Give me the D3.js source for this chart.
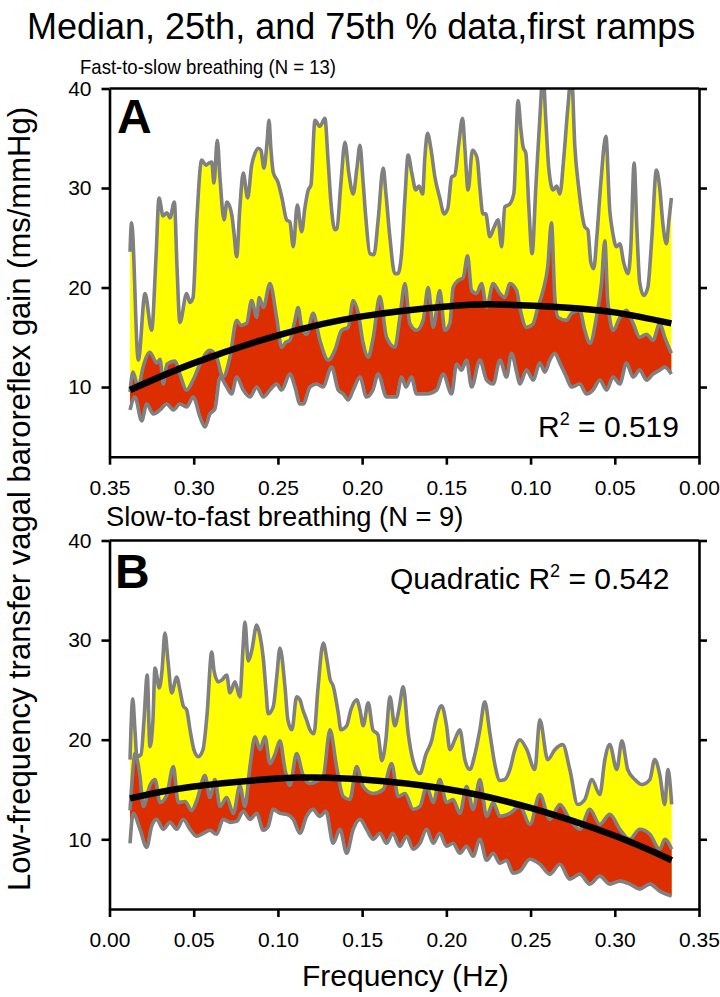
<!DOCTYPE html>
<html><head><meta charset="utf-8">
<script src="https://cdn.jsdelivr.net/npm/d3@7/dist/d3.min.js"></script>
<style>body{margin:0;background:#fff}svg{display:block}</style>
</head><body><svg id="c" width="720" height="997"></svg>
<script>
// ---------- DATA ----------
// [frequency (Hz), gain (ms/mmHg)]
const tickFreqs = [0, 0.05, 0.10, 0.15, 0.20, 0.25, 0.30, 0.35];
const tickGains = [10, 20, 30, 40];

// Panel A: fast-to-slow breathing
const p75A = [[0.3378,23.6],[0.3369,26.5],[0.3329,12.7],[0.3289,19.4],[0.3250,15.7],[0.3224,23],[0.3206,29.0],[0.3182,27.2],[0.3159,27.5],[0.3141,27.0],[0.3115,28.6],[0.3099,22],[0.3082,16.5],[0.3042,19.4],[0.3022,18.5],[0.3004,19.0],[0.2981,27],[0.2953,32.8],[0.2927,32.3],[0.2910,32.5],[0.2893,32.6],[0.2880,30.5],[0.2860,34.8],[0.2844,31],[0.2820,26.8],[0.2803,28.6],[0.2775,27.4],[0.2761,25.5],[0.2745,23.1],[0.2726,28],[0.2706,31.5],[0.2680,29.0],[0.2656,32.3],[0.2636,33.5],[0.2617,34.0],[0.2601,33.8],[0.2583,32.0],[0.2565,34.5],[0.2553,36.8],[0.2542,34],[0.2528,31.6],[0.2500,30.6],[0.2476,29.0],[0.2448,26.8],[0.2429,26.6],[0.2409,24.1],[0.2385,28.3],[0.2359,25.6],[0.2340,28.0],[0.2320,29.8],[0.2304,30.3],[0.2280,36.8],[0.2251,36.2],[0.2221,37.0],[0.2203,33],[0.2185,28.5],[0.2162,25.8],[0.2150,25.9],[0.2126,30.5],[0.2102,34.6],[0.2079,31.5],[0.2053,29.4],[0.2031,32],[0.2013,34.3],[0.1996,31],[0.1978,27],[0.1954,23.4],[0.1930,23.3],[0.1905,26.8],[0.1875,32.0],[0.1859,29.5],[0.1835,25],[0.1806,21.4],[0.1788,21.4],[0.1766,23.4],[0.1746,29],[0.1727,33.3],[0.1705,31.5],[0.1681,29.8],[0.1663,30.2],[0.1641,29.4],[0.1628,33],[0.1612,35.5],[0.1592,34],[0.1568,31.1],[0.1539,29],[0.1513,27.4],[0.1491,28],[0.1469,31.1],[0.1450,31.3],[0.1426,34.5],[0.1404,37.0],[0.1390,34],[0.1371,29.8],[0.1345,33.8],[0.1317,33.0],[0.1301,30],[0.1283,27.4],[0.1266,27.4],[0.1242,25.1],[0.1218,26],[0.1193,26.8],[0.1172,24.1],[0.1153,28.1],[0.1123,28.4],[0.1099,29.5],[0.1074,38.8],[0.1058,36],[0.1044,34.1],[0.1028,33.5],[0.1010,28],[0.0991,23.4],[0.0969,30],[0.0945,37],[0.0926,41.5],[0.0910,37],[0.0892,32],[0.0866,29.8],[0.0846,30.2],[0.0826,29.4],[0.0803,33],[0.0779,38],[0.0757,41.5],[0.0737,34.1],[0.0714,30],[0.0678,26.1],[0.0660,25.8],[0.0642,22.5],[0.0625,21.9],[0.0607,25],[0.0583,30.5],[0.0553,35.2],[0.0530,27.8],[0.0512,25.5],[0.0490,24.1],[0.0470,24.4],[0.0447,22.5],[0.0421,21.4],[0.0405,24],[0.0385,32.5],[0.0369,26],[0.0352,20.5],[0.0328,19.2],[0.0304,20],[0.0280,25],[0.0253,31.8],[0.0233,30],[0.0215,26.5],[0.0193,24.4],[0.0180,26.5],[0.0164,29.0]];
const medA = [[0.3378,9.5],[0.3361,11.5],[0.3329,10.0],[0.3301,12],[0.3260,13.5],[0.3220,12.4],[0.3200,12.8],[0.3181,10.3],[0.3159,12.3],[0.3111,12.6],[0.3082,11.3],[0.3042,9.7],[0.3004,10.7],[0.2963,12.3],[0.2904,13.7],[0.2864,13],[0.2826,11],[0.2785,13],[0.2745,16.7],[0.2720,16.2],[0.2686,16.4],[0.2656,18.7],[0.2626,17.0],[0.2611,19],[0.2587,18.0],[0.2547,20.4],[0.2508,17],[0.2478,14.0],[0.2453,14.5],[0.2429,14.7],[0.2399,16.7],[0.2380,18.0],[0.2359,16],[0.2330,15.3],[0.2291,17.4],[0.2251,14.7],[0.2201,12.7],[0.2162,13.7],[0.2122,15.7],[0.2083,16],[0.2053,18.7],[0.2023,17.4],[0.1994,14.4],[0.1964,13.0],[0.1934,15],[0.1895,19.1],[0.1855,15],[0.1806,14],[0.1776,17],[0.1746,20.4],[0.1717,16.4],[0.1677,15.7],[0.1638,16.7],[0.1608,20],[0.1578,16],[0.1539,19.7],[0.1509,15.7],[0.1479,16.4],[0.1460,20],[0.1430,20.7],[0.1400,21],[0.1374,23.2],[0.1350,19.7],[0.1321,19.4],[0.1291,20.4],[0.1261,18],[0.1222,20.4],[0.1182,19.4],[0.1153,19],[0.1123,20.4],[0.1083,19.7],[0.1064,18.0],[0.1024,16],[0.0987,16.3],[0.0957,18],[0.0926,19.7],[0.0898,22.1],[0.0876,26.5],[0.0856,19],[0.0837,17.0],[0.0787,16.7],[0.0757,17.4],[0.0708,17.7],[0.0678,15.7],[0.0648,14.4],[0.0609,17],[0.0579,20.4],[0.0559,24.7],[0.0542,18.7],[0.0510,15.7],[0.0470,17],[0.0431,17.7],[0.0391,16.4],[0.0352,15],[0.0312,15.3],[0.0273,14.7],[0.0233,16.4],[0.0203,15],[0.0164,13.4]];
const p25A = [[0.3378,7.7],[0.3349,9.0],[0.3309,6.6],[0.3279,8.3],[0.3240,7.3],[0.3200,7.7],[0.3161,8.3],[0.3121,7.7],[0.3082,8.3],[0.3042,8.0],[0.3003,9],[0.2963,7.0],[0.2933,6.0],[0.2904,7.3],[0.2874,7.8],[0.2844,11],[0.2804,10],[0.2775,9.3],[0.2745,11],[0.2706,9.7],[0.2666,9],[0.2626,10],[0.2587,9],[0.2547,9.7],[0.2508,10.3],[0.2478,9.7],[0.2429,11.3],[0.2399,10],[0.2369,8.3],[0.2350,8.3],[0.2310,10],[0.2270,10.3],[0.2233,10],[0.2181,12.0],[0.2142,9.7],[0.2112,9.3],[0.2083,8.7],[0.2053,9.7],[0.2013,11],[0.1974,9],[0.1936,9.7],[0.1905,11.3],[0.1855,9],[0.1796,9],[0.1766,11],[0.1740,10],[0.1707,11],[0.1677,9.3],[0.1618,9.3],[0.1558,9.7],[0.1519,11.3],[0.1469,9.3],[0.1439,12.3],[0.1410,11.7],[0.1380,12.7],[0.1350,10],[0.1301,12.7],[0.1261,10.7],[0.1222,10.3],[0.1182,12.7],[0.1143,11],[0.1113,13.4],[0.1083,11.5],[0.1064,10.3],[0.1024,11.7],[0.0985,10.7],[0.0945,12.4],[0.0915,11.5],[0.0886,12.7],[0.0856,13.4],[0.0826,12.4],[0.0787,11],[0.0757,10],[0.0708,10.3],[0.0668,9.3],[0.0629,9.7],[0.0589,10.7],[0.0549,9.7],[0.0510,11],[0.0470,10.3],[0.0431,12.4],[0.0391,11],[0.0352,11.7],[0.0312,10.7],[0.0273,11.3],[0.0233,11.7],[0.0203,12],[0.0164,11.3]];
const fitA = [[0.3378,9.7],[0.30,12.4],[0.25,15.2],[0.20,17.1],[0.15,18.1],[0.118,18.3],[0.08,18.0],[0.05,17.5],[0.0164,16.4]];

// Panel B: slow-to-fast breathing
const p75B = [[0.0122,18.0],[0.0138,24.1],[0.0151,21],[0.0163,18.3],[0.0187,18.5],[0.0205,22],[0.0224,26.5],[0.0240,19.3],[0.0258,22],[0.0270,27.2],[0.0296,25.2],[0.0312,27],[0.0329,30.7],[0.0347,28],[0.0369,24.7],[0.0399,26.3],[0.0418,25],[0.0438,23.4],[0.0458,23.0],[0.0478,21],[0.0501,19],[0.0527,18.3],[0.0555,19],[0.0579,22.5],[0.0607,28.8],[0.0620,27],[0.0646,25.8],[0.0668,26],[0.0696,26.5],[0.0715,24.7],[0.0745,25.8],[0.0774,24.3],[0.0792,29],[0.0804,31.8],[0.0824,27.9],[0.0844,28.9],[0.0874,31.5],[0.0893,30.5],[0.0913,28.2],[0.0929,25],[0.0942,22.6],[0.0972,23.3],[0.0994,26.5],[0.1012,29.2],[0.1042,25.3],[0.1059,22],[0.1083,21],[0.1111,24.3],[0.1131,24],[0.1148,23],[0.1170,22.0],[0.1190,21],[0.1214,20.6],[0.1237,25],[0.1269,29.7],[0.1291,28],[0.1309,26.1],[0.1328,25.4],[0.1358,22.7],[0.1374,21],[0.1408,21.4],[0.1433,23],[0.1467,24.0],[0.1487,23],[0.1506,21.4],[0.1536,23.7],[0.1564,21],[0.1594,20.5],[0.1617,17.9],[0.1641,20],[0.1665,24.3],[0.1694,21.4],[0.1718,23],[0.1744,25.3],[0.1773,20.7],[0.1801,18],[0.1843,16.6],[0.1878,18.5],[0.1914,20],[0.1938,22],[0.1972,23.4],[0.2001,21.4],[0.2021,19],[0.2050,20],[0.2080,21],[0.2110,18],[0.2139,17],[0.2169,18.5],[0.2199,21],[0.2228,23.8],[0.2258,20.7],[0.2288,17.5],[0.2318,15.9],[0.2347,16],[0.2377,17],[0.2407,19],[0.2436,20],[0.2478,19],[0.2525,17],[0.2555,22],[0.2602,18],[0.2644,19],[0.2691,19.5],[0.2733,17],[0.2780,13.5],[0.2822,14],[0.2864,16],[0.2911,14.5],[0.2941,18],[0.2970,19.5],[0.3012,17],[0.3042,19.9],[0.3077,17],[0.3119,16],[0.3160,15.5],[0.3208,16],[0.3237,18],[0.3267,16.5],[0.3297,13.5],[0.3315,17],[0.3338,13.5]];
const medB = [[0.0122,12.9],[0.0141,17.3],[0.0151,18.6],[0.0181,16.3],[0.0201,13.3],[0.0240,15.4],[0.0270,16],[0.0300,13.7],[0.0339,14.4],[0.0379,17.3],[0.0408,13.7],[0.0448,13.8],[0.0488,12.9],[0.0518,13.9],[0.0567,16.4],[0.0596,14.2],[0.0626,16],[0.0656,13.3],[0.0696,14.2],[0.0735,12.6],[0.0774,15.4],[0.0804,13.3],[0.0834,17.3],[0.0864,20.3],[0.0893,19],[0.0923,20.3],[0.0953,17.6],[0.0982,18.5],[0.1012,19.9],[0.1042,17],[0.1071,15.4],[0.1111,18.6],[0.1148,16.5],[0.1190,15.6],[0.1226,15.8],[0.1269,16.3],[0.1309,21],[0.1348,17.3],[0.1388,14.3],[0.1427,14],[0.1467,17.3],[0.1506,15.3],[0.1566,14.6],[0.1625,15],[0.1675,17.6],[0.1714,14.3],[0.1754,14.6],[0.1803,13],[0.1843,13.3],[0.1883,15.3],[0.1922,13.7],[0.1961,16],[0.2001,13.7],[0.2040,14],[0.2080,12.6],[0.2120,15.3],[0.2159,13],[0.2199,16],[0.2239,12.3],[0.2278,13.7],[0.2318,12.3],[0.2377,12.6],[0.2436,13.3],[0.2496,11.5],[0.2555,14.5],[0.2614,12],[0.2674,13.5],[0.2733,12],[0.2792,11],[0.2852,13],[0.2911,11.5],[0.2970,12.5],[0.3030,11],[0.3089,10],[0.3148,11],[0.3208,10.5],[0.3267,9],[0.3297,10],[0.3338,9]];
const p25B = [[0.0122,9.6],[0.0141,12.6],[0.0181,11.0],[0.0221,9.2],[0.0250,11.3],[0.0280,12.0],[0.0319,11],[0.0359,11.7],[0.0399,11],[0.0438,12],[0.0478,11],[0.0518,10.3],[0.0557,10.6],[0.0596,10.9],[0.0636,10.5],[0.0675,12],[0.0715,11.7],[0.0755,11.8],[0.0794,12.8],[0.0834,12],[0.0874,12.6],[0.0913,10.9],[0.0942,11.3],[0.0972,13],[0.1012,12.6],[0.1052,12.5],[0.1091,12],[0.1131,10.6],[0.1170,12.3],[0.1208,13],[0.1249,12.3],[0.1285,12.8],[0.1328,9.6],[0.1368,11],[0.1408,8.6],[0.1447,11],[0.1487,12],[0.1526,11],[0.1566,10],[0.1605,10.6],[0.1645,9.6],[0.1682,10.6],[0.1724,9.3],[0.1764,10.3],[0.1803,9],[0.1843,9.6],[0.1883,11],[0.1922,9.6],[0.1961,10.6],[0.2001,9.3],[0.2040,9.6],[0.2080,8.6],[0.2120,9.3],[0.2159,8.3],[0.2199,10],[0.2239,7.9],[0.2278,8.6],[0.2318,7.6],[0.2357,7.9],[0.2396,6.6],[0.2436,6.8],[0.2496,8],[0.2555,7.5],[0.2614,6.5],[0.2674,7.5],[0.2733,6],[0.2792,6.5],[0.2852,5.5],[0.2911,6.3],[0.2970,5.5],[0.3030,5.8],[0.3089,5.5],[0.3148,5],[0.3208,5.5],[0.3267,4.8],[0.3338,4.3]];
const fitB = [[0.0122,14.1],[0.05,15.3],[0.10,16.1],[0.12,16.2],[0.15,16.0],[0.20,15.05],[0.25,13.15],[0.30,10.35],[0.3338,7.9]];

// ---------- DRAW ----------
const FONT = '"Liberation Sans", Arial, Helvetica, sans-serif';
const svg = d3.select("#c");
const defs = svg.append("defs");
const XR = [109.5, 699];
const GRAY = "#808080", YELLOW = "#ffff00", RED = "#dc2e00";

function panel(o) {
  const x = d3.scaleLinear().domain(o.xDomain).range(XR);
  const y = d3.scaleLinear().domain([3, 40]).range([o.bottom, o.top]);
  defs.append("clipPath").attr("id", "clip" + o.key)
    .append("rect").attr("x", XR[0]).attr("y", o.top)
    .attr("width", XR[1] - XR[0]).attr("height", o.bottom - o.top);
  const g = svg.append("g");
  const pl = g.append("g").attr("clip-path", `url(#clip${o.key})`);
  const pts = s => s.map(d => [x(d[0]), y(d[1])]).sort((a, b) => a[0] - b[0]);
  const area = d3.area().x(d => d[0]).y0(o.bottom + 1).y1(d => d[1]).curve(d3.curveMonotoneX);
  const line = d3.line().curve(d3.curveMonotoneX);
  pl.append("path").attr("d", area(pts(o.p75))).attr("fill", YELLOW);
  pl.append("path").attr("d", area(pts(o.med))).attr("fill", RED);
  pl.append("path").attr("d", area(pts(o.p25))).attr("fill", "#fff")
    .attr("stroke", "#fff").attr("stroke-width", 2.5);
  [o.p75, o.med, o.p25].forEach(s =>
    pl.append("path").attr("d", line(pts(s))).attr("fill", "none")
      .attr("stroke", GRAY).attr("stroke-width", 3.6).attr("stroke-linejoin", "round"));
  pl.append("path").attr("d", d3.line().curve(d3.curveNatural)(pts(o.fit)))
    .attr("fill", "none").attr("stroke", "#000").attr("stroke-width", 6.5);

  const ax = [];
  ax.push(g.append("g").attr("transform", `translate(${XR[0]},0)`)
    .call(d3.axisLeft(y).tickValues(tickGains).tickSize(8).tickSizeOuter(0).tickPadding(10).tickFormat(d3.format("d"))));
  ax.push(g.append("g").attr("transform", `translate(${XR[1]},0)`)
    .call(d3.axisRight(y).tickValues(tickGains).tickSize(8).tickSizeOuter(0).tickFormat("")));
  ax.push(g.append("g").attr("transform", `translate(0,${o.bottom})`)
    .call(d3.axisBottom(x).tickValues(tickFreqs).tickSize(8).tickSizeOuter(0).tickPadding(15).tickFormat(d3.format(".2f"))));
  g.append("line").attr("x1", XR[0]).attr("x2", XR[1]).attr("y1", o.top).attr("y2", o.top)
    .attr("stroke", "#000").attr("stroke-width", 2.6);
  ax.forEach(a => {
    a.attr("font-family", FONT).attr("font-size", 21);
    a.selectAll("path,line").attr("stroke", "#000").attr("stroke-width", 2.6);
    a.selectAll("text").attr("fill", "#000");
  });
}

panel({key: "A", xDomain: [0.35, 0], top: 88.5, bottom: 456.7, p75: p75A, med: medA, p25: p25A, fit: fitA});
panel({key: "B", xDomain: [0, 0.35], top: 540.5, bottom: 909, p75: p75B, med: medB, p25: p25B, fit: fitB});

function txt(x, y, s, size, extra) {
  const t = svg.append("text").attr("x", x).attr("y", y).attr("font-family", FONT)
    .attr("font-size", size).attr("fill", "#000").text(s);
  if (extra) extra(t);
  return t;
}
txt(27, 39, "Median, 25th, and 75th % data,first ramps", 36);
txt(80, 74, "Fast-to-slow breathing (N = 13)", 21, t => t.attr("textLength", 256).attr("lengthAdjust", "spacingAndGlyphs"));
txt(117, 133, "A", 48, t => t.attr("font-weight", "bold"));
txt(106, 526, "Slow-to-fast breathing (N = 9)", 27.3);
txt(115, 588, "B", 48, t => t.attr("font-weight", "bold"));

function r2(x, y, prefix, val) {
  const t = svg.append("text").attr("x", x).attr("y", y).attr("font-family", FONT)
    .attr("font-size", 30).attr("fill", "#000");
  t.append("tspan").text(prefix + "R");
  t.append("tspan").attr("font-size", 18).attr("dy", -12).text("2");
  t.append("tspan").attr("dy", 12).text(" = " + val);
}
r2(538, 437, "", "0.519");
r2(390, 589, "Quadratic ", "0.542");

txt(302, 986, "Frequency (Hz)", 30);
svg.append("text").attr("transform", "translate(30,499) rotate(-90)")
  .attr("text-anchor", "middle").attr("font-family", FONT).attr("font-size", 31)
  .attr("fill", "#000").text("Low-frequency transfer vagal baroreflex gain (ms/mmHg)");
</script>
</body></html>
